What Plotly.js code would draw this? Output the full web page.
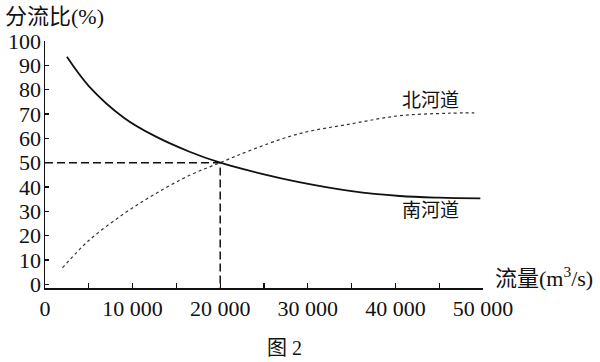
<!DOCTYPE html>
<html><head><meta charset="utf-8">
<script src="https://cdn.plot.ly/plotly-3.0.1.min.js"></script>
<style>html,body{margin:0;padding:0;background:#fff}#c{width:600px;height:362px}</style>
</head><body><div id="c"></div>
<script>
const southX = [2500, 5000, 9000, 12500, 16500, 20000, 25000, 29000, 35000, 40500, 45000, 49700];
const southY = [93.5, 81.5, 68.5, 61, 54.5, 50, 45.2, 42, 38.3, 36.3, 35.6, 35.3];
const northX = [2000, 5000, 9000, 12500, 16500, 20000, 23400, 29000, 35000, 40500, 46000, 49000];
const northY = [6.8, 18, 29, 37, 44.8, 50, 55, 61.9, 66, 69.3, 70.3, 70.5];
const guideX = [0, 20000, 20000];
const guideY = [50, 50, -1.5];
const xTickVals = [0, 10000, 20000, 30000, 40000, 50000];
const xTickText = ['0', '10 000', '20 000', '30 000', '40 000', '50 000'];
const yTickVals = [0, 10, 20, 30, 40, 50, 60, 70, 80, 90, 100];
const yTitle = '分流比(%)';
const xTitle = '流量(m<sup>3</sup>/s)';
const northLabel = '北河道';
const southLabel = '南河道';
const figLabel = '图 2';

const serif = '"Liberation Serif", "Times New Roman", "Noto Sans CJK SC", serif';
const cjk = '"Noto Sans CJK SC", "Liberation Serif", sans-serif';

const traces = [
  {x: guideX, y: guideY, mode: 'lines', line: {color: '#111', width: 1.5, dash: '8px,4px'}, hoverinfo: 'skip'},
  {x: northX, y: northY, mode: 'lines', line: {color: '#333', width: 1.2, dash: 'dot', shape: 'spline'}},
  {x: southX, y: southY, mode: 'lines', line: {color: '#111', width: 1.8, shape: 'spline'}}
];

const layout = {
  width: 600, height: 362,
  margin: {l: 45, r: 117, t: 41, b: 74},
  paper_bgcolor: '#fff', plot_bgcolor: '#fff',
  showlegend: false,
  xaxis: {
    range: [0, 50000], showgrid: false, zeroline: false,
    showline: true, linecolor: '#111', linewidth: 1.5,
    ticks: 'inside', ticklen: 5, tickwidth: 1.2, tickcolor: '#111',
    tickvals: xTickVals, ticktext: xTickText,
    minor: {dtick: 5000, tick0: 0, ticks: 'inside', ticklen: 5, tickwidth: 1.2, tickcolor: '#111', showgrid: false},
    tickfont: {family: serif, size: 22, color: '#111'}
  },
  yaxis: {
    range: [-1.5, 100], showgrid: false, zeroline: false,
    showline: true, linecolor: '#111', linewidth: 1.5,
    ticks: 'inside', ticklen: 4, tickwidth: 1.2, tickcolor: '#111',
    tickvals: yTickVals, ticklabelstandoff: -2,
    tickfont: {family: serif, size: 22, color: '#111'}
  },
  annotations: [
    {xref: 'paper', yref: 'paper', x: -0.095, y: 1.0, yshift: 25, xanchor: 'left', yanchor: 'middle',
     text: yTitle, showarrow: false, font: {family: serif, size: 22, color: '#111'}},
    {xref: 'paper', yref: 'paper', x: 1.0, y: 0, xshift: 10, yshift: 11, xanchor: 'left', yanchor: 'middle',
     text: xTitle, showarrow: false, font: {family: serif, size: 22, color: '#111'}},
    {xref: 'x', yref: 'y', x: 44000, y: 76.5, xanchor: 'center', yanchor: 'middle',
     text: northLabel, showarrow: false, font: {family: cjk, size: 19, color: '#111'}},
    {xref: 'x', yref: 'y', x: 44000, y: 31, xanchor: 'center', yanchor: 'middle',
     text: southLabel, showarrow: false, font: {family: cjk, size: 19, color: '#111'}},
    {xref: 'paper', yref: 'paper', x: (284 - 45) / 438, y: 0, yshift: -60, xanchor: 'center', yanchor: 'middle',
     text: figLabel, showarrow: false, font: {family: serif, size: 20, color: '#111'}}
  ]
};

Plotly.newPlot('c', traces, layout, {staticPlot: true});
</script></body></html>
